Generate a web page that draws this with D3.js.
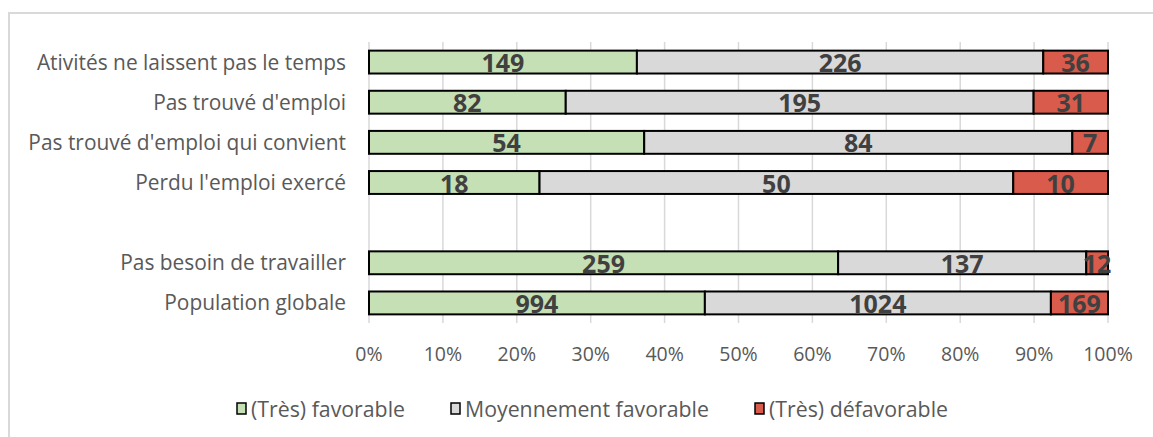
<!DOCTYPE html>
<html>
<head>
<meta charset="utf-8">
<script src="https://cdn.jsdelivr.net/npm/d3@7"></script>
<style>
  body { margin: 0; background: #fff; }
  svg { display: block; font-family: "Open Sans", sans-serif; }
</style>
</head>
<body>
<div id="chart"></div>
<script>
// Categories, top to bottom (empty string = gap row)
const categories = [
    "Ativités ne laissent pas le temps",
    "Pas trouvé d'emploi",
    "Pas trouvé d'emploi qui convient",
    "Perdu l'emploi exercé",
    "",
    "Pas besoin de travailler",
    "Population globale"
];
const favorable = [149, 82, 54, 18, null, 259, 994];
const moyen = [226, 195, 84, 50, null, 137, 1024];
const defavorable = [36, 31, 7, 10, null, 12, 169];

const seriesNames = ["(Très) favorable", "Moyennement favorable", "(Très) défavorable"];
const seriesColors = ["#c5e0b4", "#d9d9d9", "#d95b4b"];
const xTicks = [0, 0.1, 0.2, 0.3, 0.4, 0.5, 0.6, 0.7, 0.8, 0.9, 1];

const width = 1153, height = 437;
const margin = { left: 369, right: 45, top: 42, bottom: 114 };

const svg = d3.select("#chart").append("svg")
    .attr("width", width)
    .attr("height", height);

// Outer chart border
svg.append("rect")
    .attr("x", 9).attr("y", 13)
    .attr("width", width + 10).attr("height", height + 10)
    .attr("fill", "none")
    .attr("stroke", "#d9d9d9")
    .attr("stroke-width", 2);

const keys = categories.map((c, i) => "k" + i);

const x = d3.scaleLinear()
    .domain([0, 1])
    .range([margin.left, width - margin.right]);

const y = d3.scaleBand()
    .domain(keys)
    .range([margin.top, height - margin.bottom])
    .paddingInner(0.43)
    .paddingOuter(0.215);

// Gridlines
svg.append("g")
    .selectAll("line")
    .data(xTicks)
    .join("line")
    .attr("x1", d => x(d)).attr("x2", d => x(d))
    .attr("y1", margin.top).attr("y2", height - margin.bottom)
    .attr("stroke", "#d9d9d9")
    .attr("stroke-width", 1.5);

// Build stacked rows
const rows = categories.map((c, i) => ({
    key: keys[i],
    label: c,
    values: [favorable[i], moyen[i], defavorable[i]]
})).filter(r => r.values[0] !== null);

const segs = [];
rows.forEach(r => {
    const total = d3.sum(r.values);
    let acc = 0;
    r.values.forEach((v, j) => {
        segs.push({ key: r.key, s: j, v: v, x0: acc / total, x1: (acc + v) / total });
        acc += v;
    });
});

svg.append("g")
    .selectAll("rect")
    .data(segs)
    .join("rect")
    .attr("x", d => x(d.x0))
    .attr("width", d => x(d.x1) - x(d.x0))
    .attr("y", d => y(d.key))
    .attr("height", y.bandwidth())
    .attr("fill", d => seriesColors[d.s])
    .attr("stroke", "#000")
    .attr("stroke-width", 2);

// Value labels
svg.append("g")
    .selectAll("text")
    .data(segs)
    .join("text")
    .attr("x", d => (x(d.x0) + x(d.x1)) / 2)
    .attr("y", d => y(d.key) + y.bandwidth() / 2 + 10)
    .attr("text-anchor", "middle")
    .style("font-size", "25px")
    .style("font-weight", "bold")
    .style("fill", "#404040")
    .text(d => d.v);

// Category labels
svg.append("g")
    .selectAll("text")
    .data(categories.map((c, i) => ({ key: keys[i], label: c })))
    .join("text")
    .attr("x", margin.left - 23)
    .attr("y", d => y(d.key) + y.bandwidth() / 2 + 7.5)
    .attr("text-anchor", "end")
    .style("font-size", "20.9px")
    .style("fill", "#595959")
    .text(d => d.label);

// X axis tick labels
svg.append("g")
    .selectAll("text")
    .data(xTicks)
    .join("text")
    .attr("x", d => x(d))
    .attr("y", 361)
    .attr("text-anchor", "middle")
    .style("font-size", "19.5px")
    .style("fill", "#595959")
    .text(d => d3.format(".0%")(d));

// Legend
const legendX = [237, 451, 755];
const legend = svg.append("g")
    .selectAll("g")
    .data(seriesNames)
    .join("g")
    .attr("transform", (d, i) => `translate(${legendX[i]}, 403)`);

legend.append("rect")
    .attr("width", 9).attr("height", 11)
    .attr("fill", (d, i) => seriesColors[i])
    .attr("stroke", "#000")
    .attr("stroke-width", 1.5);

legend.append("text")
    .attr("x", 14)
    .attr("y", 13.5)
    .style("font-size", "21.3px")
    .style("fill", "#595959")
    .text(d => d);
</script>
</body>
</html>
